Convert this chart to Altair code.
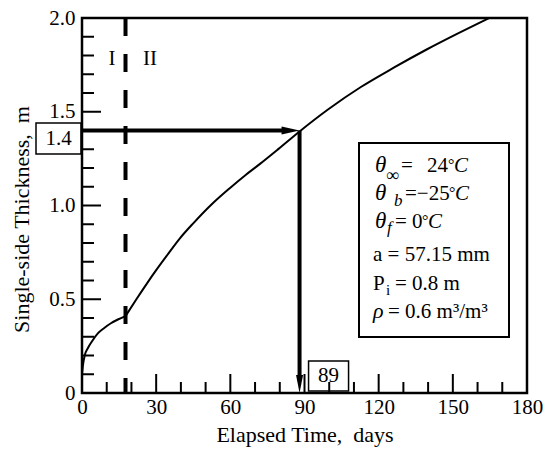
import altair as alt
import pandas as pd

# ---- data ----
phase1_t = [0, 0.4, 1.1, 2.4, 4.0, 6.4, 9.0, 11.7, 14.5, 17.6]
phase1_h = [0.10, 0.15, 0.20, 0.24, 0.275, 0.318, 0.347, 0.372, 0.392, 0.41]
phase2_t = [17.6, 22, 26.3, 30, 35, 39.6, 45, 52.9, 60, 66.2, 72, 79.5,
            88, 99.5, 112.8, 126.1, 139.4, 152.7, 164.7]
phase2_h = [0.41, 0.50, 0.585, 0.655, 0.745, 0.825, 0.905, 1.012, 1.095, 1.163,
            1.222, 1.302, 1.395, 1.512, 1.632, 1.735, 1.832, 1.922, 2.0]

divide_t = 17.6          # boundary between phase I and phase II
cross_t = 88             # where the curve reaches 1.4 m
cross_h = 1.4
label_h = "1.4"
label_t = "89"

x_major = [0, 30, 60, 90, 120, 150, 180]
x_minor = [10, 20, 40, 50, 70, 80, 100, 110, 130, 140, 160, 170]
y_major = [0, 0.5, 1.0, 1.5, 2.0]
y_minor = [0.1, 0.2, 0.3, 0.4, 0.6, 0.7, 0.8, 0.9, 1.1, 1.2, 1.3, 1.4, 1.6, 1.7, 1.8, 1.9]

FONT = "Liberation Serif"
W, H = 445, 375
X0, Y0 = 82, 18   # plot origin on the page (for annotation pixel layout)

curve = pd.DataFrame({
    "t": phase1_t + phase2_t,
    "h": phase1_h + phase2_h,
    "phase": ["I"] * len(phase1_t) + ["II"] * len(phase2_t),
})

xs = alt.Scale(domain=[0, 180], nice=False, zero=False)
ys = alt.Scale(domain=[0, 2.0], nice=False, zero=False)

x_axis = alt.Axis(values=x_major, ticks=False, tickSize=0, domain=False, grid=False,
                  labelFlush=False, labelPadding=3, labelFontSize=21, labelFont=FONT,
                  labelColor="black",
                  title="Elapsed Time,\u00a0 days", titleFont=FONT, titleFontSize=22,
                  titleFontWeight="normal", titleColor="black",
                  titleY=48, titleBaseline="alphabetic")
y_axis = alt.Axis(values=y_major, ticks=False, tickSize=0, domain=False, grid=False,
                  labelFlush=False, labelPadding=7, labelFontSize=21, labelFont=FONT,
                  labelColor="black",
                  labelExpr="datum.value == 0 ? '0' : format(datum.value, '.1f')",
                  title="Single-side Thickness,\u00a0 m", titleFont=FONT, titleFontSize=22,
                  titleFontWeight="normal", titleColor="black",
                  titleAngle=-90, titleX=28 - X0, titleY=201, titleAlign="center",
                  titleBaseline="alphabetic")

line = alt.Chart(curve).mark_line(interpolate="monotone", color="black", strokeWidth=2).encode(
    x=alt.X("t:Q", scale=xs, axis=x_axis),
    y=alt.Y("h:Q", scale=ys, axis=y_axis),
    detail="phase:N",
)

# inward ticks
def xticks(vals, length):
    return alt.Chart(pd.DataFrame({"t": vals})).mark_rule(color="black", strokeWidth=2).encode(
        x=alt.X("t:Q", scale=xs), y=alt.value(H), y2=alt.value(H - length))

def yticks(vals, length):
    return alt.Chart(pd.DataFrame({"h": vals})).mark_rule(color="black", strokeWidth=2).encode(
        y=alt.Y("h:Q", scale=ys), x=alt.value(0), x2=alt.value(length))

divider = alt.Chart(pd.DataFrame({"t": [divide_t]})).mark_rule(
    color="black", strokeWidth=4, strokeDash=[18, 18]).encode(
    x=alt.X("t:Q", scale=xs), y=alt.value(0), y2=alt.value(H))

cross = pd.DataFrame({"t0": [0], "t": [cross_t], "h": [cross_h], "h0": [0]})
harrow = alt.Chart(cross).mark_rule(color="black", strokeWidth=4, x2Offset=-12).encode(
    x=alt.X("t0:Q", scale=xs), x2="t:Q", y=alt.Y("h:Q", scale=ys))
varrow = alt.Chart(cross).mark_rule(color="black", strokeWidth=4, y2Offset=-12).encode(
    x=alt.X("t:Q", scale=xs), y=alt.Y("h:Q", scale=ys), y2="h0:Q")
hhead = alt.Chart(cross).mark_point(shape="M-1,-0.44L1,0L-1,0.44Z", size=324, filled=True,
                                   color="black", opacity=1, xOffset=-9).encode(
    x=alt.X("t:Q", scale=xs), y=alt.Y("h:Q", scale=ys))
vhead = alt.Chart(cross).mark_point(shape="M-0.39,-1L0.39,-1L0,1Z", size=324, filled=True,
                                   color="black", opacity=1, yOffset=-9).encode(
    x=alt.X("t:Q", scale=xs), y=alt.Y("h0:Q", scale=ys))

# value boxes
box14 = alt.Chart(cross).mark_point(shape="M-1,-0.689L1,-0.689L1,0.689L-1,0.689Z", size=2025,
                                   filled=False, color="black", strokeWidth=1.5, opacity=1,
                                   yOffset=8).encode(
    x=alt.value(58.5 - X0), y=alt.Y("h:Q", scale=ys))
txt14 = alt.Chart(cross).mark_text(text=label_h, font=FONT, fontSize=21, color="black",
                                  baseline="middle", align="center", yOffset=8).encode(
    x=alt.value(58.5 - X0), y=alt.Y("h:Q", scale=ys))
box89 = alt.Chart(cross).mark_point(shape="M-1,-0.75L1,-0.75L1,0.75L-1,0.75Z", size=1600,
                                   filled=False, color="black", strokeWidth=1.5, opacity=1,
                                   xOffset=29, yOffset=-17).encode(
    x=alt.X("t:Q", scale=xs), y=alt.Y("h0:Q", scale=ys))
txt89 = alt.Chart(cross).mark_text(text=label_t, font=FONT, fontSize=21, color="black",
                                  baseline="middle", align="center", xOffset=29, yOffset=-17).encode(
    x=alt.X("t:Q", scale=xs), y=alt.Y("h0:Q", scale=ys))

one = pd.DataFrame({"k": [0]})

def label(s, px, py, size=21, italic=False, baseline="alphabetic", align="left"):
    kw = dict(font=FONT, fontSize=size, color="black", baseline=baseline, align=align)
    if italic:
        kw["fontStyle"] = "italic"
    return alt.Chart(one).mark_text(**kw).encode(
        x=alt.value(px - X0), y=alt.value(py - Y0), text=alt.value(s))

legend_box = alt.Chart(one).mark_rect(fillOpacity=0, stroke="black", strokeWidth=2).encode(
    x=alt.value(359 - X0), x2=alt.value(509 - X0), y=alt.value(143 - Y0), y2=alt.value(337 - Y0))

texts = [
    label("I", 112, 59, baseline="middle", align="center"),
    label("II", 150, 59, baseline="middle", align="center"),
    # theta_inf
    label("θ", 375, 172, size=23, italic=True),
    label("∞", 386, 181, size=18),
    label("=", 401, 172),
    label("24", 427, 172),
    label("°", 448, 170, size=16),
    label("C", 454, 172, italic=True),
    # theta_b
    label("θ", 375, 200, size=23, italic=True),
    label("b", 394, 206, size=17, italic=True),
    label("=−25", 405, 200),
    label("°", 449, 198, size=16),
    label("C", 455, 200, italic=True),
    # theta_f
    label("θ", 375, 228, size=23, italic=True),
    label("f", 387, 233, size=17, italic=True),
    label("= 0", 395, 228),
    label("°", 422, 226, size=16),
    label("C", 428, 228, italic=True),
    label("a = 57.15 mm", 373, 261),
    label("P", 373, 290),
    label("i", 386, 295, size=15),
    label("= 0.8 m", 395, 290),
    label("ρ", 373, 318, size=22, italic=True),
    label("= 0.6 m³/m³", 388, 318),
]

layers = [xticks(x_major, 19), xticks(x_minor, 11), yticks(y_major, 19), yticks(y_minor, 12),
          divider, line, harrow, varrow, hhead, vhead, box14, txt14, box89, txt89, legend_box] + texts

chart = alt.layer(*layers).properties(
    width=W, height=H,
    background="white",
    autosize=alt.AutoSizeParams(type="none"),
    padding={"left": X0 - 8, "top": 10, "right": 16, "bottom": 56},
).configure_view(stroke="black", strokeWidth=2.5)

chart.save("out.html", embed_options={"renderer": "svg", "actions": False})
